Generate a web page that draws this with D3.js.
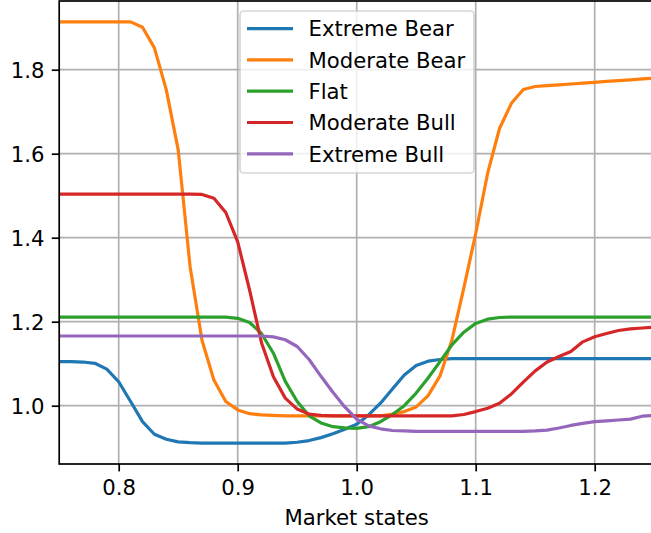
<!DOCTYPE html>
<html>
<head>
<meta charset="utf-8">
<script src="https://cdn.jsdelivr.net/npm/d3@7"></script>
<style>
  html, body { margin: 0; padding: 0; background: #fff; }
  svg { display: block; font-family: "DejaVu Sans", sans-serif; }
</style>
</head>
<body>
<svg id="chart" width="651" height="533"></svg>
<script>
// Market state grid (x axis)
const states = [0.75,0.76,0.77,0.78,0.79,0.80,0.81,0.82,0.83,0.84,0.85,0.86,0.87,0.88,0.89,
  0.90,0.91,0.92,0.93,0.94,0.95,0.96,0.97,0.98,0.99,1.00,1.01,1.02,1.03,1.04,1.05,1.06,1.07,
  1.08,1.09,1.10,1.11,1.12,1.13,1.14,1.15,1.16,1.17,1.18,1.19,1.20,1.21,1.22,1.23,1.24,1.25];

const extremeBear = [1.105,1.105,1.104,1.101,1.087,1.057,1.010,0.962,0.932,0.920,0.914,0.912,0.911,0.911,0.911,
  0.911,0.911,0.911,0.911,0.911,0.913,0.917,0.924,0.933,0.944,0.956,0.978,1.006,1.040,1.073,1.096,1.106,1.110,
  1.112,1.112,1.112,1.112,1.112,1.112,1.112,1.112,1.112,1.112,1.112,1.112,1.112,1.112,1.112,1.112,1.112,1.112];

const moderateBear = [1.914,1.914,1.914,1.914,1.914,1.914,1.914,1.901,1.852,1.752,1.609,1.331,1.156,1.061,1.010,
  0.990,0.981,0.978,0.977,0.976,0.976,0.976,0.976,0.976,0.976,0.976,0.976,0.976,0.980,0.986,0.997,1.024,1.071,
  1.156,1.280,1.410,1.553,1.660,1.720,1.753,1.760,1.762,1.764,1.766,1.768,1.770,1.772,1.774,1.776,1.778,1.780];

const flat = [1.211,1.211,1.211,1.211,1.211,1.211,1.211,1.211,1.211,1.211,1.211,1.211,1.211,1.211,1.211,
  1.208,1.198,1.172,1.125,1.058,1.010,0.976,0.959,0.950,0.947,0.946,0.950,0.962,0.979,1.000,1.030,1.066,1.105,
  1.145,1.175,1.196,1.206,1.210,1.211,1.211,1.211,1.211,1.211,1.211,1.211,1.211,1.211,1.211,1.211,1.211,1.211];

const moderateBull = [1.504,1.504,1.504,1.504,1.504,1.504,1.504,1.504,1.504,1.504,1.504,1.504,1.503,1.494,1.460,
  1.390,1.275,1.150,1.069,1.018,0.992,0.980,0.977,0.976,0.976,0.976,0.976,0.976,0.976,0.976,0.976,0.976,0.976,
  0.976,0.979,0.986,0.994,1.006,1.028,1.056,1.083,1.104,1.117,1.129,1.152,1.164,1.172,1.179,1.183,1.185,1.187];

const extremeBull = [1.166,1.166,1.166,1.166,1.166,1.166,1.166,1.166,1.166,1.166,1.166,1.166,1.166,1.166,1.166,
  1.166,1.166,1.166,1.164,1.157,1.141,1.110,1.070,1.032,0.997,0.968,0.952,0.945,0.941,0.940,0.939,0.939,0.939,
  0.939,0.939,0.939,0.939,0.939,0.939,0.939,0.940,0.942,0.947,0.953,0.958,0.962,0.964,0.966,0.968,0.975,0.977];

const seriesNames = ["Extreme Bear", "Moderate Bear", "Flat", "Moderate Bull", "Extreme Bull"];
const seriesValues = [extremeBear, moderateBear, flat, moderateBull, extremeBull];
const seriesColors = ["#1f77b4", "#ff7f0e", "#2ca02c", "#d62728", "#9467bd"];

const xTicks = [0.8, 0.9, 1.0, 1.1, 1.2];
const yTicks = [1.0, 1.2, 1.4, 1.6, 1.8];

const svg = d3.select("#chart");
const plotLeft = 59.2, plotRight = 654.2, plotTop = 1, plotBottom = 464;
const fontSize = 21.2;
const lineW = 3.2, thinW = 1.7, tickLen = 7.4;

const x = d3.scaleLinear().domain([0.75, 1.25]).range([plotLeft, plotRight]);
const y = d3.scaleLinear().domain([0.8612, 1.9636]).range([plotBottom, plotTop]);

svg.append("defs").append("clipPath").attr("id", "plot-clip")
  .append("rect").attr("x", plotLeft).attr("y", plotTop)
  .attr("width", plotRight - plotLeft).attr("height", plotBottom - plotTop);

// grid
const grid = svg.append("g");
grid.selectAll("line.gx").data(xTicks).join("line")
  .attr("x1", d => x(d)).attr("x2", d => x(d))
  .attr("y1", plotTop).attr("y2", plotBottom)
  .attr("stroke", "#b0b0b0").attr("stroke-width", thinW);
grid.selectAll("line.gy").data(yTicks).join("line")
  .attr("x1", plotLeft).attr("x2", plotRight)
  .attr("y1", d => y(d)).attr("y2", d => y(d))
  .attr("stroke", "#b0b0b0").attr("stroke-width", thinW);

// series lines
const line = d3.line()
  .x((d, i) => x(states[i]))
  .y(d => y(d));

const plot = svg.append("g").attr("clip-path", "url(#plot-clip)");
seriesValues.forEach((vals, k) => {
  plot.append("path")
    .attr("d", line(vals))
    .attr("fill", "none")
    .attr("stroke", seriesColors[k])
    .attr("stroke-width", lineW)
    .attr("stroke-linejoin", "round")
    .attr("stroke-linecap", "square");
});

// axes
const xAxis = d3.axisBottom(x).tickValues(xTicks).tickFormat(d3.format(".1f"))
  .tickSizeInner(tickLen).tickSizeOuter(0).tickPadding(7.4);
const yAxis = d3.axisLeft(y).tickValues(yTicks).tickFormat(d3.format(".1f"))
  .tickSizeInner(tickLen).tickSizeOuter(0).tickPadding(7.4);

const gx = svg.append("g").attr("transform", `translate(0,${plotBottom})`).call(xAxis);
const gy = svg.append("g").attr("transform", `translate(${plotLeft},0)`).call(yAxis);
[gx, gy].forEach(g => {
  g.select(".domain").remove();
  g.selectAll(".tick line").attr("stroke", "#000").attr("stroke-width", thinW);
  g.selectAll(".tick text").attr("fill", "#000")
    .style("font-size", fontSize + "px").style("font-family", "DejaVu Sans");
});
gx.selectAll(".tick text").attr("dy", "0.76em");
gy.selectAll(".tick text").attr("dy", "0.36em");

// spines
svg.append("rect")
  .attr("x", plotLeft).attr("y", plotTop)
  .attr("width", plotRight - plotLeft).attr("height", plotBottom - plotTop)
  .attr("fill", "none").attr("stroke", "#000").attr("stroke-width", thinW);

// x axis label
svg.append("text")
  .attr("x", (plotLeft + plotRight) / 2).attr("y", 525)
  .attr("text-anchor", "middle")
  .style("font-size", fontSize + "px")
  .text("Market states");

// legend
const legend = svg.append("g");
legend.append("rect")
  .attr("x", 240).attr("y", 11).attr("width", 234).attr("height", 162)
  .attr("rx", 3.5).attr("ry", 3.5)
  .attr("fill", "#fff").attr("fill-opacity", 0.8)
  .attr("stroke", "#cccccc").attr("stroke-opacity", 0.8).attr("stroke-width", thinW);
seriesNames.forEach((name, k) => {
  const cy = 28.6 + k * 31.3;
  legend.append("line")
    .attr("x1", 247).attr("x2", 293).attr("y1", cy).attr("y2", cy)
    .attr("stroke", seriesColors[k]).attr("stroke-width", lineW);
  legend.append("text")
    .attr("x", 308.5).attr("y", cy + 7.7)
    .style("font-size", fontSize + "px")
    .attr("fill", "#000")
    .text(name);
});
</script>
</body>
</html>
